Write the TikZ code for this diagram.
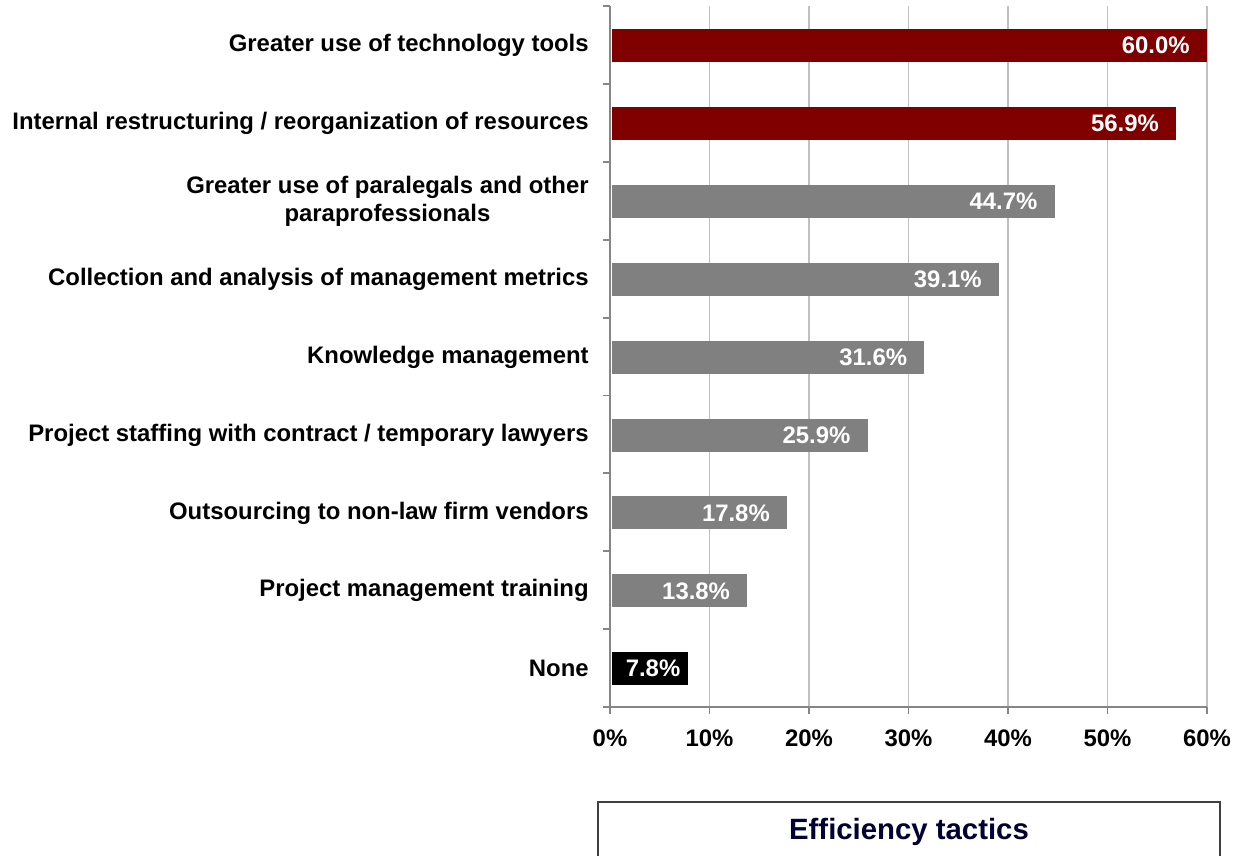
\documentclass[tikz,border=0pt]{standalone}
\usepackage{fontspec}
\setmainfont{Liberation Sans}

\definecolor{barred}{HTML}{800000}
\definecolor{bargray}{HTML}{808080}
\definecolor{axisgray}{HTML}{868686}
\definecolor{gridgray}{HTML}{C0C0C0}
\definecolor{titleblue}{HTML}{000033}

\tikzset{
  chartfont/.style={font=\fontsize{13.6}{15.5}\selectfont\bfseries},
  catlabel/.style={chartfont, anchor=east, align=center, inner sep=0pt},
  vallabel/.style={chartfont, anchor=east, text=white, inner sep=0pt},
  ticklabel/.style={chartfont, inner sep=0pt},
  axisline/.style={axisgray, line width=1.1pt}
}

\begin{document}
\begin{tikzpicture}[x=0.02cm,y=-0.02cm]
\useasboundingbox (0,0) rectangle (1240,855);
\clip (0,0) rectangle (1240,855);

% grid lines
\foreach \p in {1,...,6}
  \draw[gridgray, line width=0.6pt] (610+99.5*\p,6) -- (610+99.5*\p,707);

% bars
\foreach \v/\c/\t/\o [count=\k from 0] in {
  60.0/barred/{Greater use of technology tools}/17,
  56.9/barred/{Internal restructuring / reorganization of resources}/17,
  44.7/bargray/{Greater use of paralegals and other\\paraprofessionals}/17,
  39.1/bargray/{Collection and analysis of management metrics}/17,
  31.6/bargray/{Knowledge management}/17,
  25.9/bargray/{Project staffing with contract / temporary lawyers}/17,
  17.8/bargray/{Outsourcing to non-law firm vendors}/17,
  13.8/bargray/{Project management training}/17,
  7.8/black/{None}/7}{
  \pgfmathsetmacro{\yc}{45.5+77.9*\k}
  \pgfmathsetmacro{\xe}{610+9.95*\v}
  \fill[\c] (612,\yc-16.5) rectangle (\xe,\yc+16.5);
  \node[vallabel] (val\k) at (\xe-\o,\yc) {\v\%};
  \node[catlabel] (cat\k) at (589,\yc) {\t};
}

% axes
\draw[axisline] (610,6) -- (610,707) -- (1207,707);
\foreach \k in {0,...,9}
  \draw[axisline] (603,6+77.9*\k) -- (610,6+77.9*\k);
\foreach \p/\q in {0/0,1/10,2/20,3/30,4/40,5/50,6/60}{
  \draw[axisline] (610+99.5*\p,707) -- (610+99.5*\p,714);
  \node[ticklabel] (tick\p) at (610+99.5*\p,738) {\q\%};
}

% legend box
\draw[black!75, line width=0.9pt] (598,880) -- (598,802) -- (1220,802) -- (1220,880);
\node[text=titleblue, font=\fontsize{16.7}{19}\selectfont\bfseries] (title) at (909,832) {Efficiency tactics};

\end{tikzpicture}
\end{document}
